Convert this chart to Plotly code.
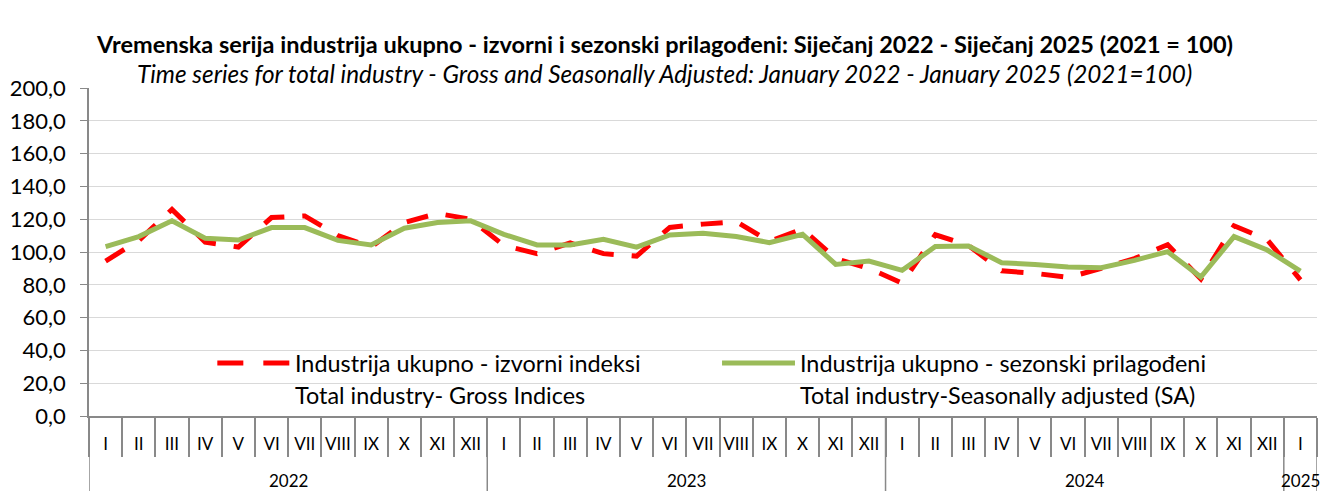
import plotly.graph_objects as go

months = ["I", "II", "III", "IV", "V", "VI", "VII", "VIII", "IX", "X", "XI", "XII"]
years = ["2022", "2023", "2024", "2025"]

gross = [94.5, 107.0, 126.0, 106.0, 103.0, 121.0, 122.0, 110.0, 103.0, 118.0, 123.5, 120.0,
         104.0, 99.0, 105.5, 99.0, 97.5, 115.0, 117.0, 118.5, 106.5, 114.0, 96.0, 90.0,
         81.0, 110.5, 104.0, 88.5, 87.0, 84.5, 90.0, 96.0, 104.5, 83.5, 116.0, 107.5,
         83.0]
sa = [103.3, 109.4, 119.0, 108.4, 107.3, 114.9, 114.9, 107.1, 104.3, 114.5, 118.0, 119.0,
      110.8, 104.3, 104.3, 107.8, 103.0, 110.4, 111.4, 109.4, 105.7, 110.8, 92.4, 94.5,
      88.8, 103.3, 103.7, 93.5, 92.4, 90.8, 90.4, 94.9, 100.2, 84.7, 109.4, 101.2,
      88.4]

name_gross = "Industrija ukupno - izvorni indeksi"
name_gross_en = "Total industry- Gross Indices"
name_sa = "Industrija ukupno - sezonski prilagođeni"
name_sa_en = "Total industry-Seasonally adjusted (SA)"
title1 = "Vremenska serija industrija ukupno - izvorni i sezonski prilagođeni: Siječanj 2022 - Siječanj 2025 (2021 = 100)"
title2 = "Time series for total industry - Gross and Seasonally Adjusted: January 2022 - January 2025 (2021=100)"

# period labels (month + year) for each observation
x_year = []
x_month = []
for y in years:
    for m in months:
        if len(x_year) < len(gross):
            x_year.append(y)
            x_month.append(m)
idx = list(range(len(gross)))

FONT = "Lato"
RED = "#FF0000"
GREEN = "#9BBB59"
AX = "#898989"

fig = go.Figure()
fig.add_trace(go.Scatter(x=idx, y=gross, mode="lines", name=name_gross,
                         customdata=[m + " " + y for m, y in zip(x_month, x_year)],
                         line=dict(color=RED, width=5, dash="22px,18px"), showlegend=False))
fig.add_trace(go.Scatter(x=idx, y=sa, mode="lines", name=name_sa,
                         customdata=[m + " " + y for m, y in zip(x_month, x_year)],
                         line=dict(color=GREEN, width=5), showlegend=False))

# year group labels and dividers
group_edges = [-0.5]
for y in years:
    pos = [i for i, yy in zip(idx, x_year) if yy == y]
    fig.add_annotation(xref="x", yref="paper", x=sum(pos) / len(pos), y=-0.198, text=y,
                       showarrow=False, xanchor="center", yanchor="middle",
                       font=dict(family=FONT, size=17, color="#000000"))
    group_edges.append(pos[-1] + 0.5)
for e in group_edges:
    fig.add_shape(type="line", xref="x", yref="paper", x0=e, x1=e, y0=0, y1=-0.2287,
                  line=dict(color=AX, width=1.5))

# legend (manual, positioned inside plot area)
fig.add_shape(type="line", xref="paper", yref="paper", x0=0.1045, x1=0.1637, y0=0.1616, y1=0.1616,
              line=dict(color=RED, width=5, dash="26px,20px"))
fig.add_shape(type="line", xref="paper", yref="paper", x0=0.5155, x1=0.5749, y0=0.1616, y1=0.1616,
              line=dict(color=GREEN, width=5))
for xp, txt, yp in [(0.1665, name_gross, 0.1616), (0.1665, name_gross_en, 0.064),
                    (0.5777, name_sa, 0.1616), (0.5777, name_sa_en, 0.064)]:
    fig.add_annotation(xref="paper", yref="paper", x=xp, y=yp, text=txt, showarrow=False,
                       xanchor="left", yanchor="middle", font=dict(family=FONT, size=23.4, color="#000000"))

fig.add_annotation(xref="paper", yref="paper", x=0.469, y=1.134, text="<b>" + title1 + "</b>",
                   showarrow=False, xanchor="center", yanchor="middle",
                   font=dict(family=FONT, size=23.5, color="#000000"))
fig.add_annotation(xref="paper", yref="paper", x=0.469, y=1.0427, text="<i>" + title2 + "</i>",
                   showarrow=False, xanchor="center", yanchor="middle",
                   font=dict(family=FONT, size=24.3, color="#000000"))

fig.update_layout(
    width=1335, height=491,
    margin=dict(l=89, r=18, t=88, b=75),
    paper_bgcolor="white", plot_bgcolor="white",
    separators=",.",
    font=dict(family=FONT, color="#000000"),
    showlegend=False,
)
fig.update_yaxes(range=[0, 200], dtick=20, tickformat=".1f", showgrid=True, gridcolor="#D9D9D9",
                 gridwidth=1, showline=True, linecolor=AX, linewidth=1.5, ticks="outside",
                 ticklen=7, tickcolor=AX, ticklabelstandoff=10,
                 tickfont=dict(family=FONT, size=22, color="#000000"),
                 zeroline=False, fixedrange=True, automargin=False)
fig.update_xaxes(range=[-0.5, len(idx) - 0.5], tickmode="array", tickvals=idx, ticktext=x_month,
                 showline=True, linecolor=AX, linewidth=1.5, ticks="", tickangle=0,
                 ticklabelstandoff=12, automargin=False, showgrid=False, zeroline=False,
                 minor=dict(tickmode="array", tickvals=[i - 0.5 for i in idx] + [idx[-1] + 0.5],
                            ticks="outside", ticklen=39, tickcolor=AX, tickwidth=1.5, showgrid=False),
                 tickfont=dict(family=FONT, size=17, color="#000000"), fixedrange=True)

fig.write_html("out.html", config={"displayModeBar": False},
               post_script="document.body.style.margin='0';document.body.style.overflow='hidden';")
